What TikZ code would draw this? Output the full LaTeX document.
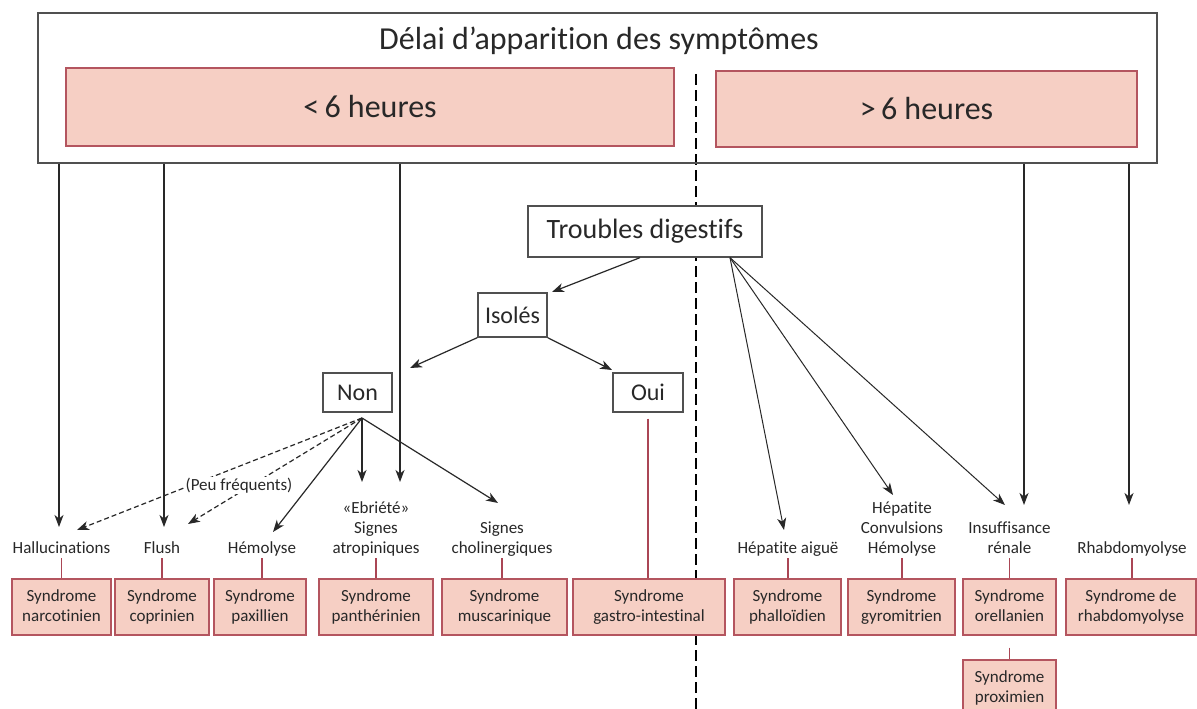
\documentclass[tikz,border=0pt]{standalone}
\usepackage{fontspec}
\setmainfont{Carlito}[Ligatures=NoCommon]
\usetikzlibrary{arrows.meta}
\definecolor{pinkfill}{RGB}{246,207,196}
\definecolor{pinkdraw}{RGB}{180,85,95}
\definecolor{pinkline}{RGB}{170,70,85}
\definecolor{ink}{RGB}{40,40,40}
\definecolor{framec}{RGB}{80,80,80}
\newcommand{\tl}[1]{\begin{tabular}{@{}c@{}}#1\end{tabular}}
\newcommand{\tlb}[1]{\begin{tabular}[b]{@{}c@{}}#1\end{tabular}}
\begin{document}
\begin{tikzpicture}[x=1pt,y=-1pt,
  every node/.style={text=ink},
  frbox/.style={draw=framec, line width=1.3pt, fill=white, inner sep=0pt},
  pkbox/.style={draw=pinkdraw, line width=1.2pt, fill=pinkfill, inner sep=0pt},
  synbox/.style={pkbox, minimum height=56pt, font=\fontsize{17}{20}\selectfont},
  lbl/.style={anchor=base, inner sep=2pt, font=\fontsize{17}{20}\selectfont},
  arr/.style={draw=ink, line width=1.2pt, -{Stealth[length=12pt,width=9pt,inset=3.5pt]}},
  darr/.style={arr, dash pattern=on 5pt off 3pt},
  link/.style={draw=pinkline, line width=1.1pt},
  divider/.style={draw=black, line width=2pt, dash pattern=on 11pt off 5pt}
]
\useasboundingbox (0,0) rectangle (1197,709);
\fill[white] (0,0) rectangle (1197,709);

% divider
\coordinate (divtop) at (696,74);
\coordinate (divbot) at (696,712);
\draw[divider] (divtop) -- (divbot);

% top frame
\node[draw=framec, line width=1.3pt, inner sep=0pt, minimum width=1119pt, minimum height=150pt] (outer) at (597.5,88) {};
\node[anchor=base, font=\fontsize{32}{38}\selectfont] (title) at (599,50) {Délai d’apparition des symptômes};
\node[pkbox, minimum width=608pt, minimum height=78pt, font=\fontsize{32}{38}\selectfont] (lt) at (370,107) {<\,6 heures};
\node[pkbox, minimum width=421pt, minimum height=76pt, font=\fontsize{32}{38}\selectfont] (gt) at (926.5,109) {>\,6 heures};

% decision boxes
\node[frbox, minimum width=234pt, minimum height=51pt, font=\fontsize{28}{34}\selectfont] (troubles) at (645,231.5) {Troubles digestifs};
\node[frbox, minimum width=69pt, minimum height=44pt, font=\fontsize{24}{28}\selectfont] (isoles) at (512.5,315) {Isolés};
\node[frbox, minimum width=69pt, minimum height=39pt, font=\fontsize{24}{28}\selectfont] (non) at (357.5,392.5) {Non};
\node[frbox, minimum width=70pt, minimum height=39pt, font=\fontsize{24}{28}\selectfont] (oui) at (648,392.5) {Oui};

% labels
\node[lbl] (hal) at (61.5,553) {Hallucinations};
\node[lbl] (flush) at (162,553) {Flush};
\node[lbl] (hemo) at (262,553) {Hémolyse};
\node[lbl] (ebr) at (376,553) {\tlb{«Ebriété»\\Signes\\atropiniques}};
\node[lbl] (chol) at (502,553) {\tlb{Signes\\cholinergiques}};
\node[lbl] (hepa) at (788,553) {Hépatite aiguë};
\node[lbl] (hepc) at (902,553) {\tlb{Hépatite\\Convulsions\\Hémolyse}};
\node[lbl] (insuf) at (1009.5,553) {\tlb{Insuffisance\\rénale}};
\node[lbl] (rhabl) at (1132,553) {Rhabdomyolyse};

% syndrome boxes
\node[synbox, minimum width=99pt] (narc) at (61.5,607) {\tl{Syndrome\\narcotinien}};
\node[synbox, minimum width=94pt] (copr) at (162,607) {\tl{Syndrome\\coprinien}};
\node[synbox, minimum width=92pt] (pax) at (260,607) {\tl{Syndrome\\paxillien}};
\node[synbox, minimum width=114pt] (panth) at (376,607) {\tl{Syndrome\\panthérinien}};
\node[synbox, minimum width=125pt] (musc) at (504.5,607) {\tl{Syndrome\\muscarinique}};
\node[synbox, minimum width=152pt] (gastro) at (649,607) {\tl{Syndrome\\gastro-intestinal}};
\node[synbox, minimum width=107pt] (phall) at (787.5,607) {\tl{Syndrome\\phalloïdien}};
\node[synbox, minimum width=107pt] (gyro) at (901.5,607) {\tl{Syndrome\\gyromitrien}};
\node[synbox, minimum width=93pt] (orel) at (1009.5,607) {\tl{Syndrome\\orellanien}};
\node[synbox, minimum width=130pt] (rhab) at (1131,607) {\tl{Syndrome de\\rhabdomyolyse}};
\node[synbox, minimum width=93pt] (prox) at (1009.5,688) {\tl{Syndrome\\proximien}};

% pink links
\foreach \l/\b in {hal/narc, flush/copr, hemo/pax, ebr/panth, chol/musc, hepa/phall, hepc/gyro, insuf/orel, rhabl/rhab}{
  \draw[link] ([yshift=-5pt]\l.base) -- (\l.base |- \b.north);
}
\draw[link] ([yshift=-6pt]oui.south) -- (oui.south |- gastro.north);
\draw[link] ([yshift=-12pt]orel.south) -- (prox.north);

% arrows from the top frame
\coordinate (aHal) at (59,527);
\coordinate (aFlu) at (164,527);
\coordinate (aEbr) at (400,482);
\coordinate (aIns) at (1024,505);
\coordinate (aRha) at (1129,505);
\foreach \t in {aHal,aFlu,aEbr,aIns,aRha}{
  \draw[arr] (\t |- outer.south) -- (\t);
}

% arrows from Troubles digestifs
\coordinate (tIso) at (552,292);
\coordinate (tHepa) at (784,530);
\coordinate (tHepc) at (893,495);
\coordinate (tIns) at (1005,505);
\draw[arr] ([xshift=-5pt]troubles.south) -- (tIso);
\draw[arr, line width=1pt] ([xshift=85pt]troubles.south) -- (tHepa);
\draw[arr, line width=1pt] ([xshift=85pt]troubles.south) -- (tHepc);
\draw[arr, line width=1pt] ([xshift=85pt]troubles.south) -- (tIns);

% arrows from Isolés
\coordinate (tNon) at (410,368);
\coordinate (tOui) at (612,370);
\draw[arr] (isoles.south west) -- (tNon);
\draw[arr] (isoles.south east) -- (tOui);

% arrows from Non
\coordinate (nonout) at (362,418);
\coordinate (dHal) at (77,530);
\coordinate (dFlu) at (188,524);
\coordinate (sHem) at (273,532);
\coordinate (sEbr) at (362,482);
\coordinate (sCho) at (498,503);
\draw[darr] (nonout) -- (dHal);
\draw[darr] (nonout) -- (dFlu);
\draw[arr] (nonout) -- (sHem);
\draw[arr] (nonout) -- (sEbr);
\draw[arr] (nonout) -- (sCho);
\node[lbl, fill=white, inner sep=1pt] (peu) at (239,490) {(Peu fréquents)};
\end{tikzpicture}
\end{document}
